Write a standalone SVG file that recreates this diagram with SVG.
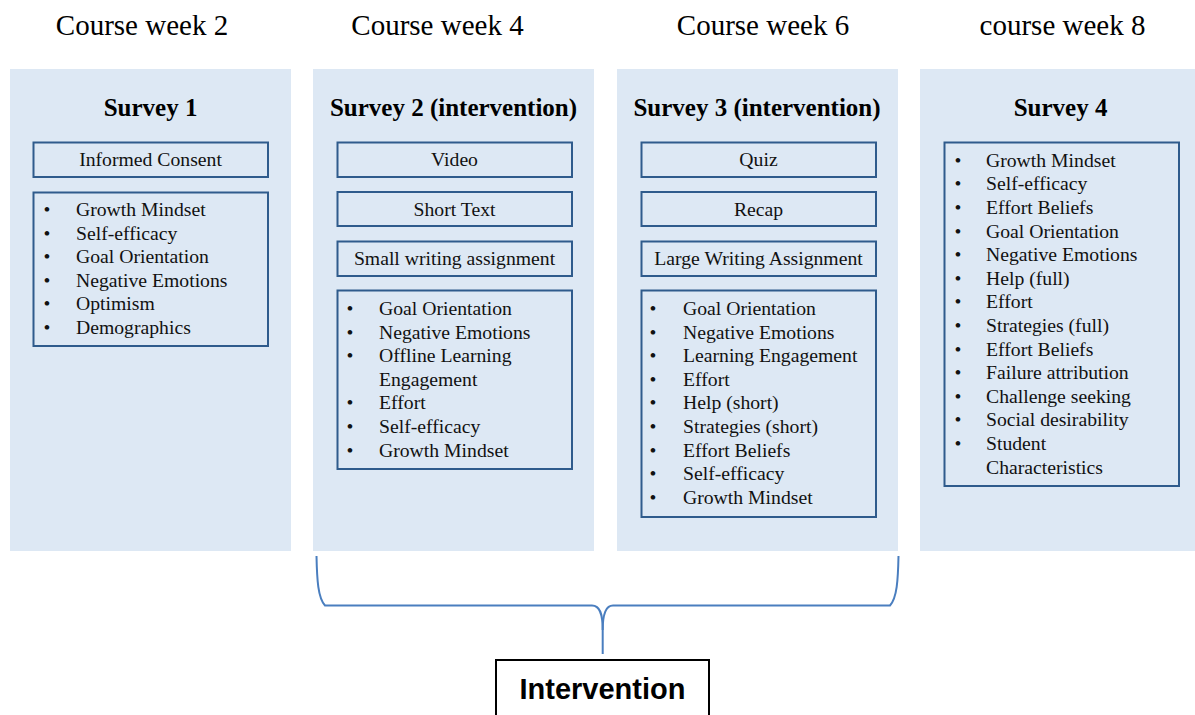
<svg xmlns="http://www.w3.org/2000/svg" width="1195" height="715" viewBox="0 0 1195 715">
  <style>
    .week { font-family: "Liberation Serif", "Times New Roman", serif; font-size: 29px; fill: #000; text-anchor: middle; }
    .title { font-family: "Liberation Serif", "Times New Roman", serif; font-size: 25px; font-weight: bold; fill: #000; text-anchor: middle; }
    .item { font-family: "Liberation Serif", "Times New Roman", serif; font-size: 19.7px; fill: #111; }
    .label { font-family: "Liberation Serif", "Times New Roman", serif; font-size: 19.7px; fill: #111; text-anchor: middle; }
    .bul { font-family: "Liberation Serif", "Times New Roman", serif; font-size: 19.7px; fill: #111; text-anchor: middle; }
    .panel { fill: #dde8f4; }
    .box { fill: none; stroke: #2f5b8c; stroke-width: 2; }
    .brace { fill: none; stroke: #4a7ebf; stroke-width: 2; }
    .ibox { fill: #fff; stroke: #000; stroke-width: 2; }
    .itext { font-family: "Liberation Sans", Arial, sans-serif; font-size: 29px; font-weight: bold; fill: #000; text-anchor: middle; }
  </style>

  <rect width="1195" height="715" fill="#fff"/>

  <!-- Week headings -->
  <g id="weeks">
    <text class="week" x="142" y="35">Course week 2</text>
    <text class="week" x="437.5" y="35">Course week 4</text>
    <text class="week" x="763" y="35">Course week 6</text>
    <text class="week" x="1062.5" y="35">course week 8</text>
  </g>

  <!-- Survey 1 -->
  <g id="survey1">
    <rect class="panel" x="10" y="69" width="281" height="482"/>
    <text class="title" x="150.5" y="116">Survey 1</text>
    <rect class="box" x="33.5" y="142.5" width="234.5" height="34.5"/>
    <text class="label" x="150.5" y="165.5">Informed Consent</text>
    <rect class="box" x="33.5" y="192.5" width="234.5" height="153.5"/>
    <g class="bul">
      <text x="47" y="216">•</text><text x="47" y="239.6">•</text><text x="47" y="263.2">•</text>
      <text x="47" y="286.8">•</text><text x="47" y="310.4">•</text><text x="47" y="334">•</text>
    </g>
    <g class="item">
      <text x="76" y="216">Growth Mindset</text>
      <text x="76" y="239.6">Self-efficacy</text>
      <text x="76" y="263.2">Goal Orientation</text>
      <text x="76" y="286.8">Negative Emotions</text>
      <text x="76" y="310.4">Optimism</text>
      <text x="76" y="334">Demographics</text>
    </g>
  </g>

  <!-- Survey 2 -->
  <g id="survey2">
    <rect class="panel" x="313" y="69" width="281" height="482"/>
    <text class="title" x="453.5" y="116">Survey 2 (intervention)</text>
    <rect class="box" x="337.5" y="142.5" width="234.5" height="34.5"/>
    <text class="label" x="454.5" y="166">Video</text>
    <rect class="box" x="337.5" y="192" width="234.5" height="34"/>
    <text class="label" x="454.5" y="216">Short Text</text>
    <rect class="box" x="337.5" y="241.5" width="234.5" height="34.5"/>
    <text class="label" x="454.5" y="265">Small writing assignment</text>
    <rect class="box" x="337.5" y="290.5" width="234.5" height="178.5"/>
    <g class="bul">
      <text x="350" y="315">•</text><text x="350" y="338.6">•</text><text x="350" y="362.2">•</text>
      <text x="350" y="409.4">•</text><text x="350" y="433">•</text><text x="350" y="456.6">•</text>
    </g>
    <g class="item">
      <text x="379" y="315">Goal Orientation</text>
      <text x="379" y="338.6">Negative Emotions</text>
      <text x="379" y="362.2">Offline Learning</text>
      <text x="379" y="385.8">Engagement</text>
      <text x="379" y="409.4">Effort</text>
      <text x="379" y="433">Self-efficacy</text>
      <text x="379" y="456.6">Growth Mindset</text>
    </g>
  </g>

  <!-- Survey 3 -->
  <g id="survey3">
    <rect class="panel" x="617" y="69" width="281" height="482"/>
    <text class="title" x="757" y="116">Survey 3 (intervention)</text>
    <rect class="box" x="641.5" y="142.5" width="234.5" height="34.5"/>
    <text class="label" x="758.5" y="166">Quiz</text>
    <rect class="box" x="641.5" y="192" width="234.5" height="34"/>
    <text class="label" x="758.5" y="216">Recap</text>
    <rect class="box" x="641.5" y="241.5" width="234.5" height="34.5"/>
    <text class="label" x="758.5" y="265">Large Writing Assignment</text>
    <rect class="box" x="641.5" y="290.5" width="234.5" height="226.5"/>
    <g class="bul">
      <text x="653" y="315">•</text><text x="653" y="338.6">•</text><text x="653" y="362.2">•</text>
      <text x="653" y="385.8">•</text><text x="653" y="409.4">•</text><text x="653" y="433">•</text>
      <text x="653" y="456.6">•</text><text x="653" y="480.2">•</text><text x="653" y="503.8">•</text>
    </g>
    <g class="item">
      <text x="683" y="315">Goal Orientation</text>
      <text x="683" y="338.6">Negative Emotions</text>
      <text x="683" y="362.2">Learning Engagement</text>
      <text x="683" y="385.8">Effort</text>
      <text x="683" y="409.4">Help (short)</text>
      <text x="683" y="433">Strategies (short)</text>
      <text x="683" y="456.6">Effort Beliefs</text>
      <text x="683" y="480.2">Self-efficacy</text>
      <text x="683" y="503.8">Growth Mindset</text>
    </g>
  </g>

  <!-- Survey 4 -->
  <g id="survey4">
    <rect class="panel" x="920" y="69" width="280" height="482"/>
    <text class="title" x="1060.5" y="116">Survey 4</text>
    <rect class="box" x="944.5" y="142.5" width="234.5" height="343.5"/>
    <g class="bul">
      <text x="958" y="166.7">•</text><text x="958" y="190.3">•</text><text x="958" y="213.9">•</text>
      <text x="958" y="237.5">•</text><text x="958" y="261.1">•</text><text x="958" y="284.7">•</text>
      <text x="958" y="308.3">•</text><text x="958" y="331.9">•</text><text x="958" y="355.5">•</text>
      <text x="958" y="379.1">•</text><text x="958" y="402.7">•</text><text x="958" y="426.3">•</text>
      <text x="958" y="449.9">•</text>
    </g>
    <g class="item">
      <text x="986" y="166.7">Growth Mindset</text>
      <text x="986" y="190.3">Self-efficacy</text>
      <text x="986" y="213.9">Effort Beliefs</text>
      <text x="986" y="237.5">Goal Orientation</text>
      <text x="986" y="261.1">Negative Emotions</text>
      <text x="986" y="284.7">Help (full)</text>
      <text x="986" y="308.3">Effort</text>
      <text x="986" y="331.9">Strategies (full)</text>
      <text x="986" y="355.5">Effort Beliefs</text>
      <text x="986" y="379.1">Failure attribution</text>
      <text x="986" y="402.7">Challenge seeking</text>
      <text x="986" y="426.3">Social desirability</text>
      <text x="986" y="449.9">Student</text>
      <text x="986" y="473.5">Characteristics</text>
    </g>
  </g>

  <!-- Curly brace grouping the two intervention surveys -->
  <g id="connectors">
    <path class="brace" d="M316.5,556 C317,580 318,598 325,605.5 L592,605.5 C600,605.5 602.7,614 602.7,630 L602.7,654"/>
    <path class="brace" d="M898.5,556 C898,580 897,598 890,605.5 L613,605.5 C605.4,605.5 602.7,614 602.7,630"/>
  </g>

  <!-- Intervention label -->
  <g id="intervention">
    <rect class="ibox" x="496" y="660" width="213" height="60"/>
    <text class="itext" x="602.5" y="699">Intervention</text>
  </g>
</svg>
